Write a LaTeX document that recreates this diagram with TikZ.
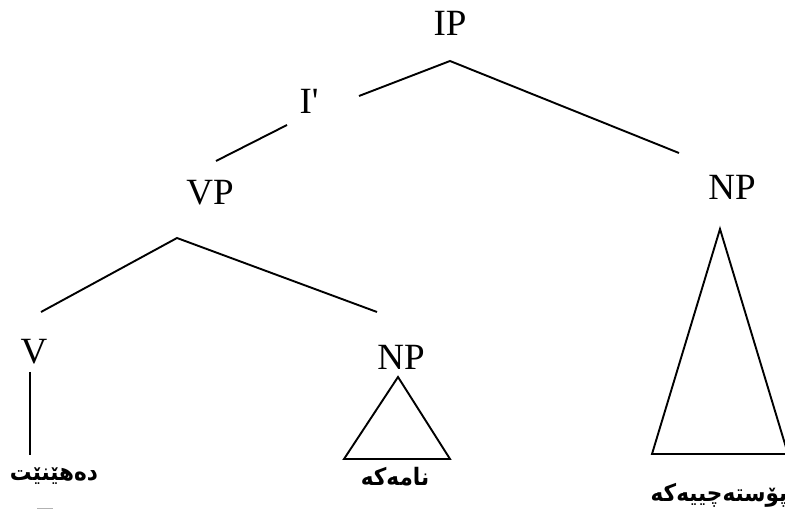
\documentclass[tikz,border=0pt]{standalone}
\usepackage{fontspec}
\setmainfont{Liberation Serif}
\newfontfamily\kurdfont[Script=Arabic]{DejaVu Sans Condensed}
\TeXXeTstate=1
\usepackage{tikz}

\begin{document}
\begin{tikzpicture}[x=1pt, y=-1pt, line width=1.9pt,
  cat/.style={inner sep=0pt, font=\fontsize{37}{40}\selectfont},
  word/.style={inner sep=0pt, font=\kurdfont\bfseries\fontsize{24}{28}\selectfont}]
 \useasboundingbox (0,0) rectangle (785,521);
  \foreach \name/\pos/\txt in {IP/{450,23}/IP, Ibar/{309,101}/I\textquotesingle, VP/{210,193}/VP,
     NPa/{732,187}/NP, V/{34,352}/V, NPb/{401,357}/NP}
   \node[cat] (\name) at (\pos) {\txt};
  \node[word] (dehenet) at (54,476) {\beginR دەهێنێت\endR};
  \node[word] (nameke) at (395,477) {\beginR نامەکە\endR};
  \node[word] (postechi) at (719,495) {\beginR پۆستەچییەکە\endR};
  \coordinate (IPf) at (450,61);
  \coordinate (IbarR) at (359,96);
  \coordinate (NPaE) at (679,153);
  \coordinate (IbarL) at (287,125);
  \coordinate (VPt) at (216,161);
  \coordinate (VPf) at (177,238);
  \coordinate (Vt) at (41,312);
  \coordinate (NPbt) at (377,312);
  \coordinate (Vs) at (30,372);
  \coordinate (Ve) at (30,455);
  \draw (IbarR) -- (IPf) -- (NPaE);
  \draw (IbarL) -- (VPt);
  \draw (Vt) -- (VPf) -- (NPbt);
  \draw (Vs) -- (Ve);
  \draw[line join=miter] (398,377) -- (344,459) -- (450,459) -- cycle;
  \draw[line join=miter] (720,229) -- (652,454) -- (788,454) -- cycle;
  \draw[gray!60, line width=1pt] (37,508) -- (53,508);
\end{tikzpicture}
\end{document}
